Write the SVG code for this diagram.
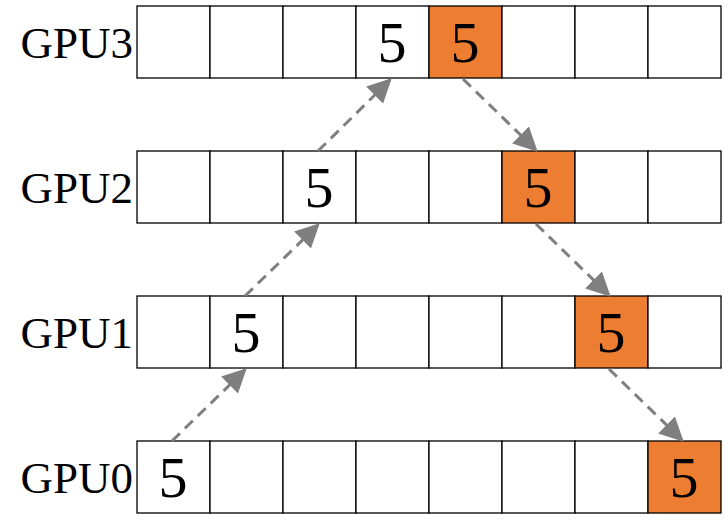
<svg xmlns="http://www.w3.org/2000/svg" width="728" height="526" viewBox="0 0 728 526">
<style>
.c{fill:#fff;stroke:#000;stroke-width:1.3}
.o{fill:#ED7D31;stroke:#000;stroke-width:1.3}
.n{font-family:"Liberation Serif",serif;font-size:58px;text-anchor:middle;fill:#000}
.l{font-family:"Liberation Serif",serif;font-size:45px;text-anchor:end;fill:#000}
</style>
<defs>
<marker id="ah2" viewBox="0 0 10 10" refX="9" refY="5" markerWidth="8" markerHeight="8" orient="auto"><path d="M0,0 L10,5 L0,10 z" fill="#7F7F7F"/></marker>
</defs>
<rect width="728" height="526" fill="#fff"/>
<g id="gpu3">
<text class="l" x="133" y="58">GPU3</text>
<rect class="c" x="137" y="6" width="73" height="72"/><rect class="c" x="210" y="6" width="73" height="72"/><rect class="c" x="283" y="6" width="73" height="72"/><rect class="c" x="356" y="6" width="73" height="72"/><rect class="o" x="429" y="6" width="73" height="72"/><rect class="c" x="502" y="6" width="73" height="72"/><rect class="c" x="575" y="6" width="73" height="72"/><rect class="c" x="648" y="6" width="73" height="72"/>
<text class="n" x="392" y="62">5</text><text class="n" x="465" y="62">5</text>
</g>
<g id="gpu2">
<text class="l" x="133" y="203">GPU2</text>
<rect class="c" x="137" y="151" width="73" height="72"/><rect class="c" x="210" y="151" width="73" height="72"/><rect class="c" x="283" y="151" width="73" height="72"/><rect class="c" x="356" y="151" width="73" height="72"/><rect class="c" x="429" y="151" width="73" height="72"/><rect class="o" x="502" y="151" width="73" height="72"/><rect class="c" x="575" y="151" width="73" height="72"/><rect class="c" x="648" y="151" width="73" height="72"/>
<text class="n" x="319" y="207">5</text><text class="n" x="538" y="207">5</text>
</g>
<g id="gpu1">
<text class="l" x="133" y="348">GPU1</text>
<rect class="c" x="137" y="296" width="73" height="72"/><rect class="c" x="210" y="296" width="73" height="72"/><rect class="c" x="283" y="296" width="73" height="72"/><rect class="c" x="356" y="296" width="73" height="72"/><rect class="c" x="429" y="296" width="73" height="72"/><rect class="c" x="502" y="296" width="73" height="72"/><rect class="o" x="575" y="296" width="73" height="72"/><rect class="c" x="648" y="296" width="73" height="72"/>
<text class="n" x="246" y="352">5</text><text class="n" x="611" y="352">5</text>
</g>
<g id="gpu0">
<text class="l" x="133" y="493">GPU0</text>
<rect class="c" x="137" y="441" width="73" height="72"/><rect class="c" x="210" y="441" width="73" height="72"/><rect class="c" x="283" y="441" width="73" height="72"/><rect class="c" x="356" y="441" width="73" height="72"/><rect class="c" x="429" y="441" width="73" height="72"/><rect class="c" x="502" y="441" width="73" height="72"/><rect class="c" x="575" y="441" width="73" height="72"/><rect class="o" x="648" y="441" width="73" height="72"/>
<text class="n" x="173" y="497">5</text><text class="n" x="684" y="497">5</text>
</g>
<g id="connectors" stroke="#7F7F7F" stroke-width="3" stroke-dasharray="11 7" fill="none" marker-end="url(#ah2)">
<line x1="172" y1="441" x2="245" y2="370"/>
<line x1="245" y1="296" x2="318" y2="225"/>
<line x1="318" y1="151" x2="390" y2="80"/>
<line x1="463" y1="79" x2="536" y2="150"/>
<line x1="536" y1="224" x2="609" y2="295"/>
<line x1="609" y1="369" x2="682" y2="440"/>
</g>
</svg>
